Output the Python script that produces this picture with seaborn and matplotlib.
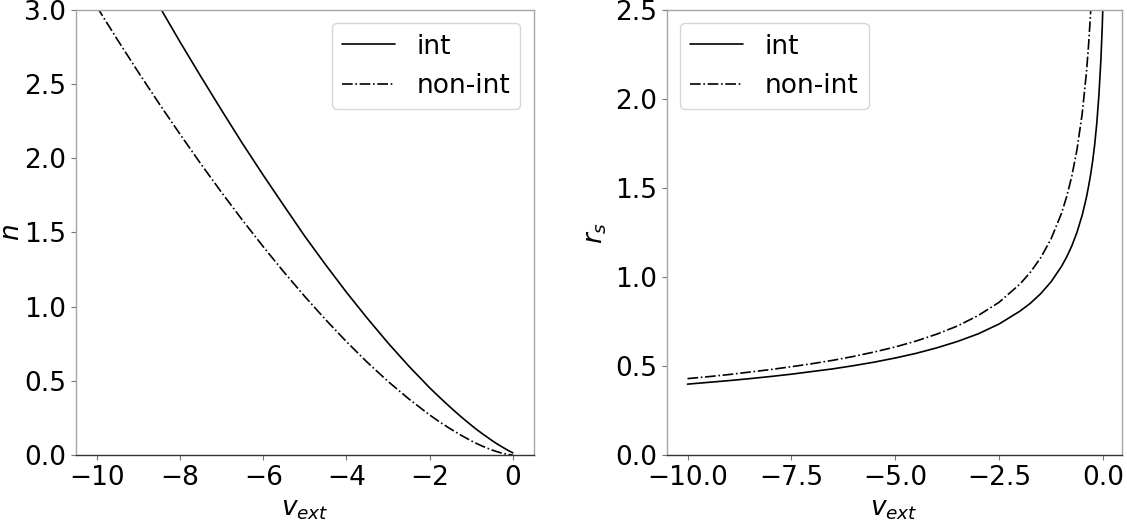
import numpy as np
import pandas as pd
import matplotlib
matplotlib.use("Agg")
import matplotlib.pyplot as plt
import seaborn as sns

# valores
v_ext = [-10, -9.5, -9, -8.5, -8, -7.5, -7, -6.5, -6, -5.5, -5, -4.5, -4, -3.5,
         -3, -2.5, -2, -1.75, -1.5, -1.25, -1, -0.875, -0.75, -0.625, -0.5, -0.4,
         -0.35, -0.3, -0.25, -0.2, -0.15, -0.1, -0.05, -0.02, 0]

n_int = [3.784, 3.525, 3.272, 3.025, 2.784, 2.551, 2.323, 2.100, 1.886, 1.679,
         1.474, 1.282, 1.097, 0.922, 0.755, 0.599, 0.453, 0.386, 0.321, 0.259,
         0.201, 0.173, 0.147, 0.122, 0.0974, 0.0789, 0.0700, 0.0615, 0.0531,
         0.0450, 0.0369, 0.0291, 0.0217, 0.0174, 0.0146]

n_nonint = [3.021, 2.797, 2.579, 2.367, 2.162, 1.962, 1.769, 1.583, 1.404, 1.232,
            1.068, 0.912, 0.764, 0.625, 0.496, 0.378, 0.270, 0.221, 0.176, 0.134,
            0.0955, 0.0782, 0.0620, 0.0472, 0.0338, 0.0242, 0.0198, 0.0157, 0.0119,
            0.0085, 0.0056, 0.0030, 0.0011, 0.0003, 0.0]

rs_int = [0.398, 0.408, 0.418, 0.429, 0.441, 0.454, 0.469, 0.484, 0.502, 0.522,
          0.545, 0.571, 0.602, 0.638, 0.681, 0.736, 0.808, 0.852, 0.906, 0.973,
          1.059, 1.112, 1.175, 1.252, 1.348, 1.446, 1.506, 1.572, 1.650, 1.744,
          1.863, 2.017, 2.224, 2.394, 2.541]

rs_nonint = [0.429, 0.440, 0.452, 0.466, 0.480, 0.496, 0.513, 0.532, 0.554, 0.579,
             0.607, 0.640, 0.679, 0.725, 0.784, 0.858, 0.960, 1.026, 1.108, 1.214,
             1.357, 1.451, 1.567, 1.717, 1.919, 2.146, 2.294, 2.478, 2.714, 3.035,
             3.504, 4.292, 6.069, 9.596, np.nan]

dados = pd.DataFrame({"v": v_ext, "n_int": n_int, "n_nonint": n_nonint,
                      "rs_int": rs_int, "rs_nonint": rs_nonint})

fs = 19

sns.set_style("white")
plt.rcParams["font.family"] = "DejaVu Sans"
plt.rcParams["font.size"] = fs
plt.rcParams["mathtext.fontset"] = "dejavusans"
plt.rcParams["text.color"] = "black"
plt.rcParams["axes.labelcolor"] = "black"
plt.rcParams["xtick.color"] = "black"
plt.rcParams["ytick.color"] = "black"

fig = plt.figure(figsize=(11.27, 5.23), dpi=100)
ax1 = fig.add_axes([0.0675, 0.130, 0.4060, 0.851])
ax2 = fig.add_axes([0.5916, 0.130, 0.4037, 0.851])

# painel n
sns.lineplot(data=dados, x="v", y="n_int", ax=ax1, color="k", lw=1.2, label="int")
sns.lineplot(data=dados, x="v", y="n_nonint", ax=ax1, color="k", lw=1.2,
             linestyle="-.", label="non-int")
ax1.set_ylim(0, 3.0)
ax1.set_xlim(-10.5, 0.5)
ax1.set_yticks([0.0, 0.5, 1.0, 1.5, 2.0, 2.5, 3.0])
ax1.set_xticks([-10, -8, -6, -4, -2, 0])
ax1.set_xlabel(r"$v_{ext}$", fontsize=fs)
ax1.set_ylabel(r"$n$", fontsize=fs)
ax1.legend(loc="upper right", fontsize=fs)

# painel r_s
sns.lineplot(data=dados, x="v", y="rs_int", ax=ax2, color="k", lw=1.2, label="int")
sns.lineplot(data=dados, x="v", y="rs_nonint", ax=ax2, color="k", lw=1.2,
             linestyle="-.", label="non-int")
ax2.set_ylim(0, 2.5)
ax2.set_xlim(-10.5, 0.45)
ax2.set_yticks([0.0, 0.5, 1.0, 1.5, 2.0, 2.5])
ax2.set_xticks([-10.0, -7.5, -5.0, -2.5, 0.0])
ax2.set_xticklabels(["\u221210.0", "\u22127.5", "\u22125.0", "\u22122.5", "0.0"])
ax2.set_xlabel(r"$v_{ext}$", fontsize=fs)
ax2.set_ylabel(r"$r_s$", fontsize=fs)
ax2.legend(loc="upper left", fontsize=fs)

for ax in (ax1, ax2):
    for lado in ("left", "top", "right"):
        ax.spines[lado].set_color("0.65")
        ax.spines[lado].set_linewidth(1.0)
    ax.spines["bottom"].set_color("0.2")
    ax.spines["bottom"].set_linewidth(1.0)
    ax.tick_params(bottom=True, left=True, length=3.5, width=0.8, color="0.45",
                   labelsize=fs, labelcolor="black", pad=3.5)

# rótulo n um pouco mais para dentro, como na figura original
ax1.yaxis.set_label_coords(-0.112, 0.5)

plt.savefig("out.png", dpi=100)
